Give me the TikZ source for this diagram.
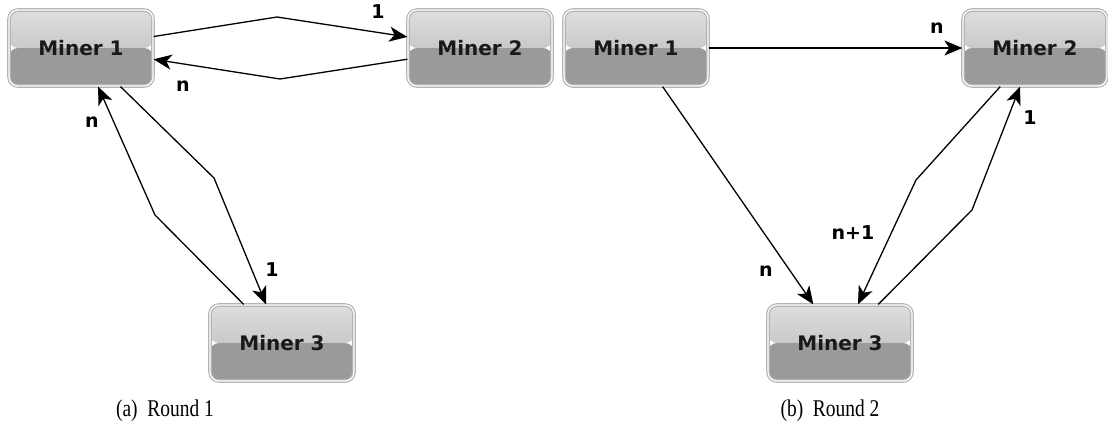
\documentclass[tikz,border=0pt]{standalone}
\usepackage{fontspec}
\setmainfont{Liberation Serif}
\newfontfamily\labelfont{DejaVu Sans}
\usetikzlibrary{arrows.meta,calc}

\definecolor{topA}{HTML}{DEDEDE}
\definecolor{topB}{HTML}{C9C9C9}
\definecolor{lowC}{HTML}{9A9A9A}
\definecolor{rimC}{HTML}{B4B4B4}

\tikzset{
  miner/.style={
    minimum width=144pt, minimum height=76pt, rounded corners=9pt,
    draw=rimC, line width=1.2pt, double=white, double distance=1.2pt,
    font=\labelfont\bfseries\fontsize{20}{22}\selectfont, text=black!90,
    path picture={
      \coordinate (ppnw) at (path picture bounding box.north west);
      \coordinate (ppse) at (path picture bounding box.south east);
      \coordinate (ppmid) at ($(ppnw)!0.5!(ppse)$);
      \shade[top color=topA, bottom color=topB]
        (ppnw) rectangle (ppse |- ppmid);
      \fill[lowC] (ppnw |- ppmid) rectangle (ppse);
    }
  },
  msg/.style={line width=1.3pt, -{Stealth[length=18pt,width=15pt,inset=5pt]}},
  cnt/.style={font=\labelfont\bfseries\fontsize{19}{21}\selectfont},
  caption/.style={font=\fontsize{24}{26}\selectfont}
}

\begin{document}
\begin{tikzpicture}[x=1pt,y=-1pt]
  \useasboundingbox (0,0) rectangle (1108,434);

  % ---- Round 1 ----
  \node[miner] (a1) at (81,48)  {Miner 1};
  \node[miner] (a2) at (480,48) {Miner 2};
  \node[miner] (a3) at (282,343) {Miner 3};

  \coordinate (p12) at (277,17);
  \coordinate (p21) at (280,79);
  \coordinate (p13) at (214,178);
  \coordinate (p31) at (155,215);

  \draw[msg] (a1) -- (p12) -- (a2);
  \draw[msg] (a2) -- (p21) -- (a1);
  \draw[msg] (a1) -- (p13) -- (a3);
  \draw[msg] (a3) -- (p31) -- (a1);

  \node[cnt] (la12) at (378,12)  {1};
  \node[cnt] (la21) at (183,86)  {n};
  \node[cnt] (la31) at (92,122)  {n};
  \node[cnt] (la13) at (272,270) {1};

  \node[caption] (capa) at (165,411) {\scalebox{0.81}[1]{(a)\ \ Round 1}};

  % ---- Round 2 ----
  \node[miner] (b1) at (636,48)  {Miner 1};
  \node[miner] (b2) at (1035,48) {Miner 2};
  \node[miner] (b3) at (840,343) {Miner 3};

  \coordinate (q23) at (916,180);
  \coordinate (q32) at (972,210);

  \draw[msg] (b1) -- (b2);
  \draw[msg] (b1) -- (b3);
  \draw[msg] (b2) -- (q23) -- (b3);
  \draw[msg] (b3) -- (q32) -- (b2);

  \node[cnt] (lb12) at (937,28)  {n};
  \node[cnt] (lb13) at (766,271) {n};
  \node[cnt] (lb23) at (853,233) {n+1};
  \node[cnt] (lb32) at (1030,118) {1};

  \node[caption] (capb) at (830,411) {\scalebox{0.81}[1]{(b)\ \ Round 2}};
\end{tikzpicture}
\end{document}
